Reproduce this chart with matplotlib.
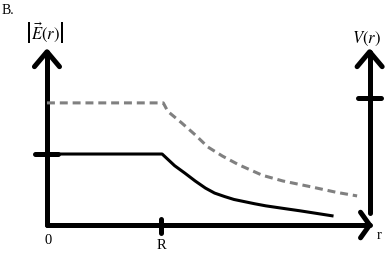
import numpy as np
import matplotlib
matplotlib.use("Agg")
import matplotlib.pyplot as plt

plt.rcParams["mathtext.fontset"] = "stix"
plt.rcParams["font.family"] = ["Liberation Serif", "DejaVu Serif"]

# r in units of R, curves in units of E(0..R)
r_field = [0.0, 1.01, 1.12, 1.21, 1.30, 1.39, 1.47, 1.56, 1.64, 1.82, 1.92, 2.09, 2.22, 2.50]
e_field = [1.0, 1.0, 0.835, 0.73, 0.62, 0.52, 0.45, 0.40, 0.36, 0.30, 0.27, 0.23, 0.20, 0.13]

r_pot = [0.0, 1.02, 1.06, 1.18, 1.30, 1.41, 1.54, 1.68, 1.82, 1.89, 2.07, 2.31, 2.54, 2.72]
v_pot = [1.72, 1.72, 1.60, 1.44, 1.27, 1.10, 0.97, 0.85, 0.75, 0.70, 0.62, 0.54, 0.46, 0.41]

r_end = 2.83      # where the r axis arrow ends
y_top = 2.44      # top of both vertical arrows
e_tick = 1.0      # tick on left axis
v_tick = 1.79     # tick on right axis
R = 1.0

fig = plt.figure(figsize=(3.88, 2.55), dpi=100)
ax = fig.add_axes([0, 0, 1, 1])
ax.set_xlim(-0.412, 2.991)
ax.set_ylim(-0.408, 3.183)
ax.axis("off")

axis_kw = dict(color="black", lw=3.6, solid_capstyle="round", solid_joinstyle="round")
hx, hy = 0.11, 0.21   # arrow head half-width / length

# left axis with arrow
ax.plot([0, 0], [0, y_top], **axis_kw)
ax.plot([-hx, 0, hx], [y_top - hy, y_top, y_top - hy], **axis_kw)
# bottom axis with arrow
ax.plot([0, r_end], [0, 0], **axis_kw)
ax.plot([r_end - 0.08, r_end, r_end - 0.08], [0.18, 0, -0.18], **axis_kw)
# right axis with arrow
ax.plot([r_end, r_end], [0.17, y_top], **axis_kw)
ax.plot([r_end - hx, r_end, r_end + hx], [y_top - hy, y_top, y_top - hy], **axis_kw)

# ticks
ax.plot([-0.105, 0.096], [e_tick, e_tick], **axis_kw)
ax.plot([r_end - 0.10, r_end + 0.10], [v_tick, v_tick], **axis_kw)
ax.plot([R, R], [0.085, -0.11], **axis_kw)

# curves
ax.plot(r_pot, v_pot, color="#808080", lw=2.2, dashes=(2.6, 1.6))
ax.plot(r_field, e_field, color="black", lw=2.2)

# labels
ax.text(-0.395, 3.03, "B.", fontsize=10, va="center", ha="left")
ax.text(0.01, -0.21, "0", fontsize=10.5, ha="center", va="center")
ax.text(R, -0.28, "R", fontsize=10.5, ha="center", va="center")
ax.text(2.91, -0.14, "r", fontsize=10.5, ha="center", va="center")
ax.text(-0.02, 2.72, r"$\left|\vec{E}(r)\right|$", fontsize=12, ha="center", va="center")
ax.text(2.80, 2.63, r"$V(r)$", fontsize=12, ha="center", va="center")

fig.savefig("out.png", dpi=100)
